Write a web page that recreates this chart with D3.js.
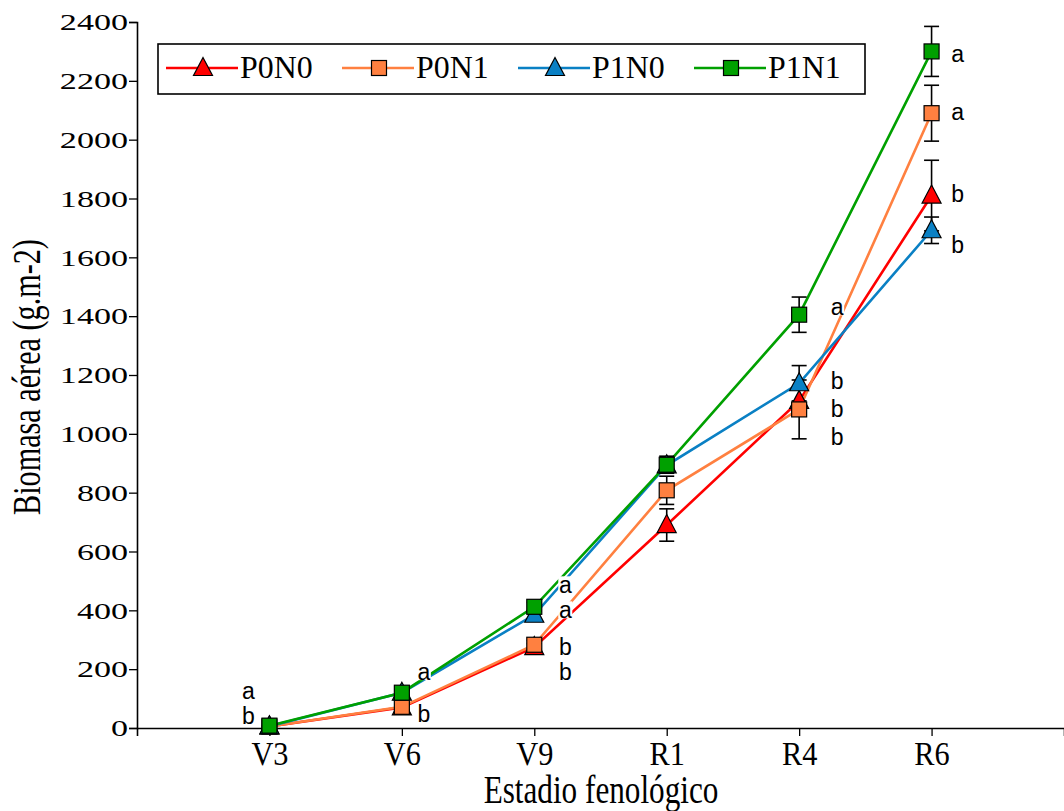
<!DOCTYPE html>
<html>
<head>
<meta charset="utf-8">
<script src="https://cdn.jsdelivr.net/npm/d3@7"></script>
<style>
  body { margin: 0; background: #fff; }
  svg { display: block; }
</style>
</head>
<body>
<script>
// estadios fenologicos
const stages = ['V3', 'V6', 'V9', 'R1', 'R4', 'R6']
const yTicks = [0, 200, 400, 600, 800, 1000, 1200, 1400, 1600, 1800, 2000, 2200, 2400]

// biomasa (g.m-2) por tratamiento
const p0n0 = [5, 70, 275, 690, 1112, 1810]
const p0n1 = [5, 72, 283, 808, 1083, 2090]
const p1n0 = [6, 120, 385, 893, 1172, 1692]
const p1n1 = [8, 120, 412, 895, 1405, 2300]

// error
const p0n0Err = [2, 8, 12, 55, 40, 120]
const p0n1Err = [2, 10, 15, 48, 100, 95]
const p1n0Err = [2, 8, 15, 25, 60, 45]
const p1n1Err = [2, 10, 15, 29, 60, 85]

// letras de significancia (estadio, letra, altura)
const letters = [
  ['V3', 'a', 126], ['V3', 'b', 40],
  ['V6', 'a', 190], ['V6', 'b', 48],
  ['V9', 'a', 485], ['V9', 'a', 400], ['V9', 'b', 275], ['V9', 'b', 190],
  ['R4', 'a', 1430], ['R4', 'b', 1180], ['R4', 'b', 1083], ['R4', 'b', 988],
  ['R6', 'a', 2290], ['R6', 'a', 2095], ['R6', 'b', 1815], ['R6', 'b', 1643]
]
const letterDx = { V3: -21, V6: 22, V9: 31, R4: 38, R6: 26 }

const series = [
  { name: 'P0N0', values: p0n0, err: p0n0Err, color: '#ff0000', shape: 'triangle' },
  { name: 'P0N1', values: p0n1, err: p0n1Err, color: '#ff8040', shape: 'square' },
  { name: 'P1N0', values: p1n0, err: p1n0Err, color: '#0a80c4', shape: 'triangle' },
  { name: 'P1N1', values: p1n1, err: p1n1Err, color: '#00a000', shape: 'square' }
]

const serif = '"Liberation Serif", "Times New Roman", serif'
const sans = '"Liberation Sans", Arial, sans-serif'

let width = 1064, height = 811
let margin = { left: 137, top: 22, right: 0, bottom: 83 }

let svg = d3.select('body').append('svg')
  .attr('width', width)
  .attr('height', height)

let x = d3.scaleLinear()
  .domain([0, stages.length + 1])
  .range([margin.left, width - margin.right])

let y = d3.scaleLinear()
  .domain([0, 2400])
  .range([height - margin.bottom, margin.top])

let xPos = s => x(stages.indexOf(s) + 1)

// ejes
let xAxis = svg.append('g')
  .attr('transform', 'translate(0,' + y(0) + ')')
  .call(d3.axisBottom(x).tickValues(stages.map((s, i) => i + 1)).tickFormat(i => stages[i - 1]).tickSizeOuter(0).tickSize(8).tickPadding(5.5))

xAxis.selectAll('text')
  .attr('font-family', serif)
  .attr('font-size', 33)
  .attr('fill', '#000')
  .attr('transform', 'scale(0.92,1)')

let yAxis = svg.append('g')
  .attr('transform', 'translate(' + margin.left + ',0)')
  .call(d3.axisLeft(y).tickValues(yTicks).tickFormat(d3.format('d')).tickSizeOuter(0).tickSize(8).tickPadding(1))

yAxis.selectAll('text')
  .attr('font-family', serif)
  .attr('font-size', 24)
  .attr('fill', '#000')
  .attr('x', -9 / 1.42)
  .attr('transform', 'scale(1.42,1)')

svg.selectAll('.domain').attr('stroke', '#000').attr('stroke-width', 1.6)
svg.selectAll('.tick line').attr('stroke', '#000').attr('stroke-width', 1.3)

svg.append('text')
  .attr('font-family', serif)
  .attr('font-size', 39)
  .attr('text-anchor', 'middle')
  .attr('transform', 'translate(601,803) scale(0.8,1)')
  .text('Estadio fenológico')

svg.append('text')
  .attr('font-family', serif)
  .attr('font-size', 40)
  .attr('text-anchor', 'middle')
  .attr('transform', 'translate(40,377) rotate(-90) scale(0.755,1)')
  .text('Biomasa aérea (g.m-2)')

let line = d3.line()
  .x((d, i) => x(i + 1))
  .y(d => y(d))

svg.append('g').selectAll('path')
  .data(series)
  .enter()
  .append('path')
  .attr('d', d => line(d.values))
  .attr('fill', 'none')
  .attr('stroke', d => d.color)
  .attr('stroke-width', 2.6)

// barras de error
series.forEach(s => {
  let g = svg.append('g').attr('stroke', '#000').attr('stroke-width', 1.6)
  s.values.forEach((v, i) => {
    let cx = x(i + 1)
    let top = y(v + s.err[i]), bot = y(v - s.err[i])
    g.append('line').attr('x1', cx).attr('x2', cx).attr('y1', top).attr('y2', bot)
    g.append('line').attr('x1', cx - 7.5).attr('x2', cx + 7.5).attr('y1', top).attr('y2', top)
    g.append('line').attr('x1', cx - 7.5).attr('x2', cx + 7.5).attr('y1', bot).attr('y2', bot)
  })
})

function marker(g, shape, color, cx, cy) {
  if (shape === 'triangle') {
    g.append('path')
      .attr('d', 'M' + cx + ',' + (cy - 10.5) + 'L' + (cx + 9.5) + ',' + (cy + 7.5) + 'L' + (cx - 9.5) + ',' + (cy + 7.5) + 'Z')
      .attr('fill', color).attr('stroke', '#000').attr('stroke-width', 1.2)
  } else {
    g.append('rect')
      .attr('x', cx - 7.5).attr('y', cy - 7.5).attr('width', 15).attr('height', 15)
      .attr('fill', color).attr('stroke', '#000').attr('stroke-width', 1.2)
  }
}

series.forEach(s => {
  let g = svg.append('g')
  s.values.forEach((v, i) => marker(g, s.shape, s.color, x(i + 1), y(v)))
})

// letras, con fondo blanco
let letterG = svg.append('g').selectAll('g')
  .data(letters)
  .enter()
  .append('g')
  .attr('transform', d => 'translate(' + (xPos(d[0]) + letterDx[d[0]]) + ',' + y(d[2]) + ')')

letterG.append('rect')
  .attr('x', -7).attr('y', -9).attr('width', 14).attr('height', 17)
  .attr('fill', '#fff')

letterG.append('text')
  .attr('font-family', sans)
  .attr('font-size', 23)
  .attr('dy', '0.35em')
  .attr('text-anchor', 'middle')
  .text(d => d[1])

// leyenda
let legend = svg.append('g')
legend.append('rect')
  .attr('x', 158).attr('y', 44).attr('width', 707).attr('height', 50)
  .attr('fill', '#fff').attr('stroke', '#000').attr('stroke-width', 1.6)

series.forEach((s, i) => {
  let lx = 166 + i * 176
  let ly = 68
  legend.append('line')
    .attr('x1', lx).attr('x2', lx + 72).attr('y1', ly).attr('y2', ly)
    .attr('stroke', s.color).attr('stroke-width', 2.6)
  marker(legend, s.shape, s.color, lx + 37, ly)
  legend.append('text')
    .attr('font-family', serif)
    .attr('font-size', 31)
    .attr('transform', 'translate(' + (lx + 74) + ',' + (ly + 10) + ') scale(1.03,1)')
    .text(s.name)
})
</script>
</body>
</html>
